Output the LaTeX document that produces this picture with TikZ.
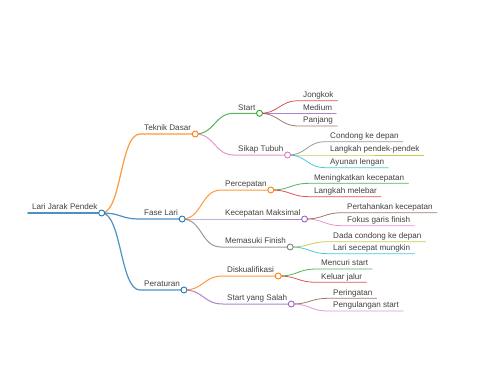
\documentclass[tikz,border=0pt]{standalone}
\usepackage{fontspec}
\setmainfont{Liberation Sans}
\usepackage{tikz}
\usetikzlibrary{positioning, calc}

\definecolor{mmblue}{HTML}{1F77B4}
\definecolor{mmorange}{HTML}{FF7F0E}
\definecolor{mmgreen}{HTML}{2CA02C}
\definecolor{mmred}{HTML}{D62728}
\definecolor{mmpurple}{HTML}{9467BD}
\definecolor{mmbrown}{HTML}{8C564B}
\definecolor{mmpink}{HTML}{E377C2}
\definecolor{mmgray}{HTML}{7F7F7F}
\definecolor{mmolive}{HTML}{BCBD22}
\definecolor{mmcyan}{HTML}{17BECF}

\begin{document}
\begin{tikzpicture}[
    x=1pt, y=-1pt,
    lbl/.style={anchor=south west, inner xsep=4pt, inner ysep=3pt,
                text depth=0pt, font=\fontsize{8.1}{9}\selectfont, text=black!75},
    link/.style={line cap=round, draw opacity=0.8},
    top/.style={link, line width=1.6pt},
    mid/.style={link, line width=1.2pt},
    sub/.style={link, line width=1pt},
    leaf/.style={link, line width=0.8pt},
    dot/.style={circle, fill=white, inner sep=0pt, minimum size=6pt, line width=0.9pt}
]
\useasboundingbox (0,0) rectangle (480,384);

% root and main branches
\node[lbl] (root)  at (28,213)  {Lari Jarak Pendek};
\node[lbl] (tek)   at (140,134) {Teknik Dasar};
\node[lbl] (fase)  at (140,219) {Fase Lari};
\node[lbl] (perat) at (140,290) {Peraturan};

% Teknik Dasar
\node[lbl] (start)   at (234,113.3) {Start};
\node[lbl] (sikap)   at (234,155)   {Sikap Tubuh};
\node[lbl] (jongkok) at (299,100.7) {Jongkok};
\node[lbl] (medium)  at (299,113.3) {Medium};
\node[lbl] (panjang) at (299,126)   {Panjang};
\node[lbl] (condong) at (326,141.7) {Condong ke depan};
\node[lbl] (pendek)  at (326,155)   {Langkah pendek-pendek};
\node[lbl] (ayunan)  at (326,167.7) {Ayunan lengan};

% Fase Lari
\node[lbl] (percep)      at (221,190)   {Percepatan};
\node[lbl] (kecmaks)     at (221,219)   {Kecepatan Maksimal};
\node[lbl] (finish)      at (221,247)   {Memasuki Finish};
\node[lbl] (meningkat)   at (310,183.3) {Meningkatkan kecepatan};
\node[lbl] (melebar)     at (310,196.7) {Langkah melebar};
\node[lbl] (pertahankan) at (343,212.7) {Pertahankan kecepatan};
\node[lbl] (fokus)       at (343,225.7) {Fokus garis finish};
\node[lbl] (dada)        at (329,241.7) {Dada condong ke depan};
\node[lbl] (secepat)     at (329,253.7) {Lari secepat mungkin};

% Peraturan
\node[lbl] (diskual)     at (223,276)   {Diskualifikasi};
\node[lbl] (salah)       at (223,304)   {Start yang Salah};
\node[lbl] (mencuri)     at (317,269)   {Mencuri start};
\node[lbl] (keluar)      at (317,282.3) {Keluar jalur};
\node[lbl] (peringatan)  at (329,298.3) {Peringatan};
\node[lbl] (ulang)       at (329,311)   {Pengulangan start};

% links
\draw[top, mmblue] (root.south west) -- (root.south east);
\draw[mid, mmorange] (root.south east) .. controls +(20,0) and +(-20,0) .. (tek.south west) -- (tek.south east);
\draw[mid, mmblue]   (root.south east) .. controls +(20,0) and +(-20,0) .. (fase.south west) -- (fase.south east);
\draw[mid, mmblue]   (root.south east) .. controls +(20,0) and +(-20,0) .. (perat.south west) -- (perat.south east);

\draw[sub, mmgreen] (tek.south east) .. controls +(20,0) and +(-20,0) .. (start.south west) -- (start.south east);
\draw[sub, mmpink]  (tek.south east) .. controls +(20,0) and +(-20,0) .. (sikap.south west) -- (sikap.south east);
\draw[leaf, mmred]    (start.south east) .. controls +(20,0) and +(-20,0) .. (jongkok.south west) -- (jongkok.south east);
\draw[leaf, mmpurple] (start.south east) .. controls +(20,0) and +(-20,0) .. (medium.south west) -- (medium.south east);
\draw[leaf, mmbrown]  (start.south east) .. controls +(20,0) and +(-20,0) .. (panjang.south west) -- (panjang.south east);
\draw[leaf, mmgray]   (sikap.south east) .. controls +(20,0) and +(-20,0) .. (condong.south west) -- (condong.south east);
\draw[leaf, mmolive]  (sikap.south east) .. controls +(20,0) and +(-20,0) .. (pendek.south west) -- (pendek.south east);
\draw[leaf, mmcyan]   (sikap.south east) .. controls +(20,0) and +(-20,0) .. (ayunan.south west) -- (ayunan.south east);

\draw[sub, mmorange] (fase.south east) .. controls +(20,0) and +(-20,0) .. (percep.south west) -- (percep.south east);
\draw[sub, mmpurple] (fase.south east) .. controls +(20,0) and +(-20,0) .. (kecmaks.south west) -- (kecmaks.south east);
\draw[sub, mmgray]   (fase.south east) .. controls +(20,0) and +(-20,0) .. (finish.south west) -- (finish.south east);
\draw[leaf, mmgreen] (percep.south east) .. controls +(20,0) and +(-20,0) .. (meningkat.south west) -- (meningkat.south east);
\draw[leaf, mmred]   (percep.south east) .. controls +(20,0) and +(-20,0) .. (melebar.south west) -- (melebar.south east);
\draw[leaf, mmbrown] (kecmaks.south east) .. controls +(20,0) and +(-20,0) .. (pertahankan.south west) -- (pertahankan.south east);
\draw[leaf, mmpink]  (kecmaks.south east) .. controls +(20,0) and +(-20,0) .. (fokus.south west) -- (fokus.south east);
\draw[leaf, mmolive] (finish.south east) .. controls +(20,0) and +(-20,0) .. (dada.south west) -- (dada.south east);
\draw[leaf, mmcyan]  (finish.south east) .. controls +(20,0) and +(-20,0) .. (secepat.south west) -- (secepat.south east);

\draw[sub, mmorange] (perat.south east) .. controls +(20,0) and +(-20,0) .. (diskual.south west) -- (diskual.south east);
\draw[sub, mmpurple] (perat.south east) .. controls +(20,0) and +(-20,0) .. (salah.south west) -- (salah.south east);
\draw[leaf, mmgreen] (diskual.south east) .. controls +(20,0) and +(-20,0) .. (mencuri.south west) -- (mencuri.south east);
\draw[leaf, mmred]   (diskual.south east) .. controls +(20,0) and +(-20,0) .. (keluar.south west) -- (keluar.south east);
\draw[leaf, mmbrown] (salah.south east) .. controls +(20,0) and +(-20,0) .. (peringatan.south west) -- (peringatan.south east);
\draw[leaf, mmpink]  (salah.south east) .. controls +(20,0) and +(-20,0) .. (ulang.south west) -- (ulang.south east);

% knots
\node[dot, draw=mmblue]   (rootdot)    at (root.south east)    {};
\node[dot, draw=mmorange] (tekdot)     at (tek.south east)     {};
\node[dot, draw=mmblue]   (fasedot)    at (fase.south east)    {};
\node[dot, draw=mmblue]   (peratdot)   at (perat.south east)   {};
\node[dot, draw=mmgreen]  (startdot)   at (start.south east)   {};
\node[dot, draw=mmpink]   (sikapdot)   at (sikap.south east)   {};
\node[dot, draw=mmorange] (percepdot)  at (percep.south east)  {};
\node[dot, draw=mmpurple] (kecmaksdot) at (kecmaks.south east) {};
\node[dot, draw=mmgray]   (finishdot)  at (finish.south east)  {};
\node[dot, draw=mmorange] (diskualdot) at (diskual.south east) {};
\node[dot, draw=mmpurple] (salahdot)   at (salah.south east)   {};

\end{tikzpicture}
\end{document}
